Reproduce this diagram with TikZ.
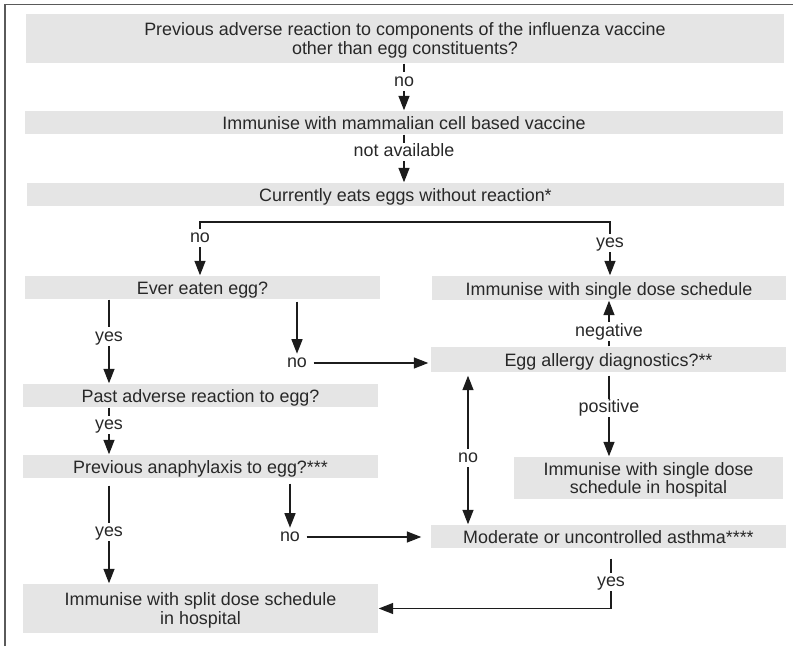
\documentclass[tikz,border=0pt]{standalone}
\usepackage{fontspec}
\setmainfont{Liberation Sans}
\usepackage{tikz}
\usetikzlibrary{arrows.meta,positioning,calc}
\usepackage{xcolor}
\definecolor{boxgray}{RGB}{229,229,229}
\definecolor{inkgray}{RGB}{40,40,40}
\definecolor{linegray}{RGB}{28,28,28}
\definecolor{framegray}{RGB}{90,90,90}
\tikzset{
  box/.style={fill=boxgray,inner sep=0pt,align=center,text=inkgray,
    text height=14pt,text depth=0pt},
  twoline/.style={text height=31.6pt,text depth=0pt},
  lbl/.style={text=inkgray,inner xsep=6pt,inner ysep=4pt,
    text height=9.2pt,text depth=0pt},
  every node/.style={font=\fontsize{17.9}{18.5}\selectfont}
}
\tikzstyle{arrow} = [-{Triangle[length=14.5pt,width=11pt]}]

\begin{document}
\begin{tikzpicture}[x=1pt,y=-1pt,line width=1.4pt,color=linegray]
  % --- Page and frame ---
  \useasboundingbox (0,0) rectangle (793,646);
  \draw[framegray,line width=1.5pt] (5,646) |- (793,4.5);

  % --- Boxes ---
  \node[box,twoline,minimum width=758pt,minimum height=49pt] (adverse) at (405,38.5)
    {Previous adverse reaction to components of the influenza vaccine\\other than egg constituents?};
  \node[box,minimum width=758pt,minimum height=23pt] (mammal) at (404,122.5)
    {Immunise with mammalian cell based vaccine};
  \node[box,minimum width=757pt,minimum height=23pt] (eats) at (405.5,194.5)
    {Currently eats eggs without reaction*};
  \node[box,minimum width=355pt,minimum height=23pt] (ever) at (202.5,287.5) {Ever eaten egg?};
  \node[box,minimum width=354pt,minimum height=24pt] (single) at (609,288)
    {Immunise with single dose schedule};
  \node[box,minimum width=355pt,minimum height=25pt] (diag) at (608.5,359.5)
    {Egg allergy diagnostics?**};
  \node[box,minimum width=355pt,minimum height=23pt] (past) at (200.5,395.5)
    {Past adverse reaction to egg?};
  \node[box,minimum width=355pt,minimum height=23pt] (anaph) at (200.5,466.5)
    {Previous anaphylaxis to egg?***};
  \node[box,twoline,minimum width=269pt,minimum height=42pt] (hospsingle) at (648.5,478)
    {Immunise with single dose\\schedule in hospital};
  \node[box,minimum width=355pt,minimum height=23pt] (asthma) at (608.5,536.5)
    {Moderate or uncontrolled asthma****};
  \node[box,twoline,minimum width=355pt,minimum height=49pt] (hospsplit) at (200.5,608.5)
    {Immunise with split dose schedule\\in hospital};

  % --- Labels ---
  \node[lbl] (lno1) at (404,81.5) {no};
  \node[lbl] (lna) at (404,152) {not available};
  \node[lbl] (lno2) at (200,238) {no};
  \node[lbl] (lyes2) at (610,243) {yes};
  \node[lbl] (lneg) at (609,331.5) {negative};
  \node[lbl] (lpos) at (609,408) {positive};
  \node[lbl] (lyes3) at (109,336.5) {yes};
  \node[lbl] (lno3) at (297,363) {no};
  \node[lbl] (lyes4) at (109,425) {yes};
  \node[lbl] (lyes5) at (109,532) {yes};
  \node[lbl] (lno4) at (290,537) {no};
  \node[lbl] (lno5) at (468,458) {no};
  \node[lbl] (lyes6) at (611,582) {yes};

  % --- Top chain ---
  \draw (lno1 |- adverse.south) -- (lno1);
  \draw[arrow] (lno1) -- (lno1 |- mammal.north);
  \draw (lna |- mammal.south) -- (lna);
  \draw[arrow] (lna) -- (lna |- eats.north);

  % --- Branch under eats ---
  \coordinate (brL) at (200,222);
  \coordinate (brR) at (610,222);
  \draw (lno2) -- (brL) -- (brR) -- (lyes2);
  \draw[arrow] (lno2) -- (lno2 |- ever.north);
  \draw[arrow] (lyes2) -- (lyes2 |- single.north);

  % --- Diagnostics ---
  \draw (lneg |- diag.north) -- (lneg);
  \draw[arrow] (lneg) -- (lneg |- single.south);
  \draw[shorten <=3pt] (lpos |- diag.south) -- (lpos);
  \draw[arrow] (lpos) -- (lpos |- hospsingle.north);

  % --- Left column ---
  \draw (lyes3 |- ever.south) -- (lyes3);
  \draw[arrow] (lyes3) -- (lyes3 |- past.north);
  \draw[arrow,shorten <=2pt] (lno3 |- ever.south) -- (lno3);
  \draw[arrow,shorten >=2pt] (lno3) -- (lno3 -| diag.west);
  \draw (lyes4 |- past.south) -- (lyes4);
  \draw[arrow] (lyes4) -- (lyes4 |- anaph.north);
  \draw[shorten <=7pt] (lyes5 |- anaph.south) -- (lyes5);
  \draw[arrow] (lyes5) -- (lyes5 |- hospsplit.north);
  \draw[arrow,shorten <=5pt] (lno4 |- anaph.south) -- (lno4);
  \draw[arrow,shorten >=9pt] (lno4) -- (lno4 -| asthma.west);

  % --- Asthma ---
  \draw[arrow,shorten >=3pt] (lno5) -- (lno5 |- diag.south);
  \draw[arrow] (lno5) -- (lno5 |- asthma.north);
  \draw[shorten <=10pt] (lyes6 |- asthma.south) -- (lyes6);
  \draw[arrow] (lyes6) |- (hospsplit.east);
\end{tikzpicture}
\end{document}
